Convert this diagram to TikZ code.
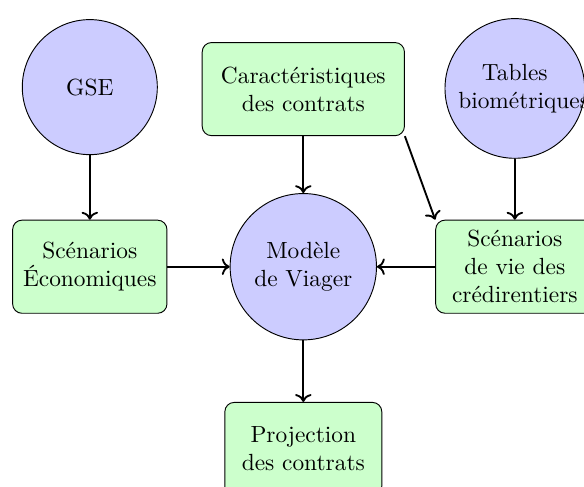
\documentclass[tikz,border=0pt]{standalone}
\usetikzlibrary{arrows.meta,calc}

\begin{document}
\begin{tikzpicture}[
  circ/.style={circle, draw=black, fill=blue!20, align=center, inner sep=2pt},
  box/.style={rectangle, rounded corners, draw=black, fill=green!20, align=center, minimum height=1.4cm},
  link/.style={->, thick}
]
\useasboundingbox (0,0) rectangle (8.78,7.31);

\def\xa{1.35}
\def\xb{4.56}
\def\xc{7.74}
\def\ytop{6.00}
\def\ymid{3.30}
\def\ybot{0.56}

% Inputs.
\node[circ, minimum size=2.03cm] (gse) at (\xa,\ytop) {GSE};
\node[box, minimum width=3.04cm] (carac) at (\xb,\ytop-0.03)
  {Caract\'eristiques\\des contrats};
\node[circ, minimum size=2.1cm, text width=1.7cm] (tables) at (\xc,\ytop-0.02)
  {Tables\\biom\'etriques};

% Scenarios and model.
\node[box, minimum width=2.32cm] (eco) at (\xa,\ymid)
  {Sc\'enarios\\\'Economiques};
\node[circ, minimum size=2.2cm] (modele) at (\xb,\ymid)
  {Mod\`ele\\de Viager};
\node[box, minimum width=2.38cm] (vie) at (\xc,\ymid)
  {Sc\'enarios\\de vie des\\cr\'edirentiers};

% Output.
\node[box, minimum width=2.36cm] (proj) at (\xb,\ybot)
  {Projection\\des contrats};

% Links.
\draw[link] (gse) -- (eco);
\draw[link] (carac) -- (modele);
\draw[link] (carac.south east) -- (vie.north west);
\draw[link] (tables) -- (vie);
\draw[link] (eco) -- (modele);
\draw[link] (vie) -- (modele);
\draw[link] (modele) -- (proj);

\end{tikzpicture}
\end{document}
